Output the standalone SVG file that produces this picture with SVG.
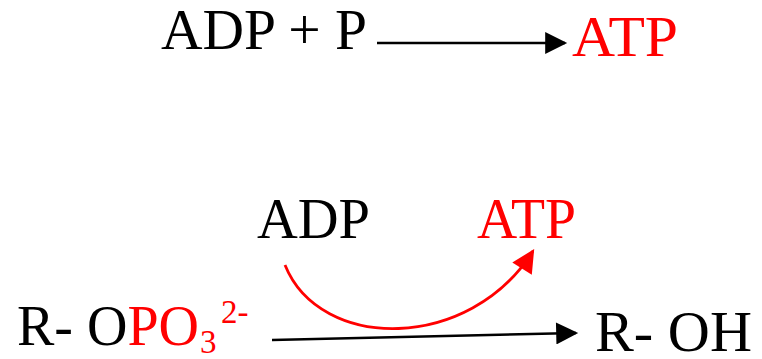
<svg xmlns="http://www.w3.org/2000/svg" width="762" height="359" viewBox="0 0 762 359">
  <defs>
    <style>
      text { font-family: "Liberation Serif", "Times New Roman", serif; font-size: 56px; }
      .blk { fill: #000; }
      .red { fill: #ff0000; }
      .small { font-size: 33px; }
    </style>
    <marker id="ahBlack" viewBox="0 0 10 10" refX="9" refY="5" markerWidth="23" markerHeight="22" markerUnits="userSpaceOnUse" orient="auto">
      <path d="M0,0 L10,5 L0,10 Z" fill="#000"/>
    </marker>
    <marker id="ahRed" viewBox="0 0 10 10" refX="9" refY="5" markerWidth="25" markerHeight="23" markerUnits="userSpaceOnUse" orient="auto">
      <path d="M0,0 L10,5 L0,10 Z" fill="#ff0000"/>
    </marker>
  </defs>

  <g id="top-reactants"><text class="blk" x="161" y="49" textLength="206" lengthAdjust="spacingAndGlyphs">ADP + P</text></g>
  <g id="top-product"><text class="red" x="572" y="56" textLength="106" lengthAdjust="spacingAndGlyphs">ATP</text></g>

  <g id="bottom-adp"><text class="blk" x="257" y="238" textLength="113" lengthAdjust="spacingAndGlyphs">ADP</text></g>
  <g id="bottom-atp"><text class="red" x="477" y="238" textLength="99" lengthAdjust="spacingAndGlyphs">ATP</text></g>

  <g id="bottom-substrate">
    <text x="17" y="345"><tspan class="blk">R- O</tspan><tspan class="red">PO</tspan><tspan class="red small" x="200" y="353">3</tspan><tspan class="red small" x="221" y="323">2-</tspan></text>
  </g>
  <g id="bottom-product"><text class="blk" x="595" y="351" textLength="157" lengthAdjust="spacingAndGlyphs">R- OH</text></g>

  <g id="connectors" fill="none">
    <line x1="377" y1="43" x2="565" y2="43" stroke="#000" stroke-width="2.4" marker-end="url(#ahBlack)"/>
    <line x1="272" y1="340" x2="576" y2="333" stroke="#000" stroke-width="2.6" marker-end="url(#ahBlack)"/>
    <path d="M285,265 C320,352 470,352 533,251" stroke="#ff0000" stroke-width="2.8" marker-end="url(#ahRed)"/>
  </g>
</svg>
